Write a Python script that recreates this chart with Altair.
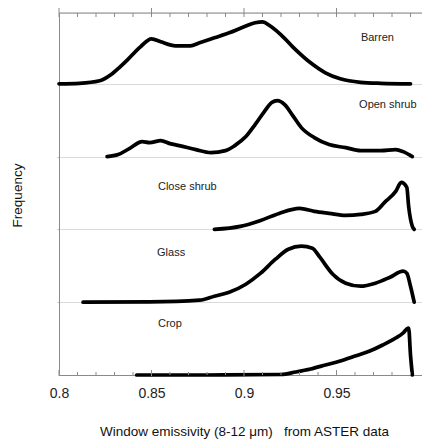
import altair as alt
import pandas as pd

# ---------------- data ----------------
classes = ["Barren", "Open shrub", "Close shrub", "Glass", "Crop"]

barren_x = [0.800, 0.811, 0.822, 0.828, 0.833, 0.837, 0.844, 0.850, 0.855, 0.863, 0.871,
            0.876, 0.884, 0.892, 0.900, 0.906, 0.910, 0.914, 0.920, 0.928, 0.936, 0.944,
            0.952, 0.963, 0.974, 0.990]
barren_f = [0, 0.5, 3, 9, 17, 24, 37, 45, 42, 38, 38,
            41, 46, 51, 57, 61, 62, 58, 49, 34, 21, 11,
            5, 1.5, 0.5, 0]

open_x = [0.826, 0.832, 0.838, 0.845, 0.849, 0.855, 0.860, 0.865, 0.874, 0.882, 0.890,
          0.895, 0.901, 0.906, 0.911, 0.915, 0.918, 0.922, 0.926, 0.931, 0.938, 0.946,
          0.955, 0.963, 0.974, 0.982, 0.986, 0.991]
open_f = [0, 2, 8, 15, 14, 16, 13, 11, 7, 4, 6,
          11, 20, 32, 45, 54, 56, 52, 42, 29, 19, 12,
          9, 6, 6, 7, 5, 0]

close_x = [0.884, 0.898, 0.909, 0.919, 0.930, 0.938, 0.946, 0.955, 0.963, 0.971, 0.976,
           0.982, 0.985, 0.988, 0.989, 0.991, 0.992]
close_f = [0, 3, 9, 16, 21, 18, 16, 14, 15, 18, 27,
           38, 47, 42, 23, 3, 0]

glass_x = [0.813, 0.849, 0.876, 0.884, 0.892, 0.901, 0.909, 0.917, 0.924, 0.931, 0.937,
           0.941, 0.948, 0.955, 0.963, 0.971, 0.979, 0.986, 0.988, 0.990, 0.992]
glass_f = [0, 0.3, 2, 6, 10, 18, 29, 43, 53, 56, 54,
           45, 28, 19, 16, 19, 25, 31, 29, 16, 0]

crop_x = [0.842, 0.880, 0.920, 0.928, 0.936, 0.944, 0.952, 0.960, 0.968, 0.975, 0.982,
          0.986, 0.988, 0.989, 0.990, 0.991]
crop_f = [0, 0, 0.5, 3, 6, 10, 14, 19, 24, 30, 37,
          42, 46, 47, 20, 0]

x_major = [0.8, 0.85, 0.9, 0.95, 1.0]
x_minor = [round(0.8 + 0.01 * i, 2) for i in range(1, 20) if i % 5 != 0]

series = {
    "Barren": (barren_x, barren_f),
    "Open shrub": (open_x, open_f),
    "Close shrub": (close_x, close_f),
    "Glass": (glass_x, glass_f),
    "Crop": (crop_x, crop_f),
}

# ---------------- layout ----------------
W, H = 370, 362
STEP = 72.8
offset = {c: (len(classes) - 1 - i) * STEP for i, c in enumerate(classes)}
label_x = {"Barren": 0.9632, "Open shrub": 0.9622, "Close shrub": 0.8535,
           "Glass": 0.853, "Crop": 0.8535}
label_dy = {"Barren": 46, "Open shrub": 52, "Close shrub": 42, "Glass": 49, "Crop": 51}

rows = []
for c in classes:
    xs, fs = series[c]
    for xv, fv in zip(xs, fs):
        rows.append({"cls": c, "x": xv, "y": offset[c] + fv})
curves = pd.DataFrame(rows)

labels = pd.DataFrame([{"cls": c, "x": label_x[c], "y": offset[c] + label_dy[c]} for c in classes])
major_df = pd.DataFrame({"x": x_major})
minor_df = pd.DataFrame({"x": x_minor})
frame_df = pd.DataFrame({"x": [x_major[0]], "x2": [x_major[-1]]})

FONT = "Liberation Sans"
GRAY = "#8a8a8a"

xscale = alt.Scale(domain=[0.8, 1.0], nice=False, zero=False)
yscale = alt.Scale(domain=[0, H], nice=False, zero=False)
baselines = [offset[c] for c in classes if offset[c] > 0]

X_AXIS = alt.Axis(orient="bottom", values=x_major, format=".2~f", tickSize=0,
                  labelFontSize=14, labelFont=FONT, labelColor="#222", labelFlush=False,
                  labelPadding=11, domainColor=GRAY, grid=False,
                  title="Window emissivity (8-12 μm)\u00a0\u00a0 from ASTER data",
                  titleFont=FONT, titleFontSize=13.5, titleFontWeight="normal",
                  titleColor="#111", titleY=56, titleBaseline="middle")
Y_AXIS = alt.Axis(values=baselines, labels=False, tickSize=2, tickColor="#bbb",
                  domainColor=GRAY, grid=True, gridColor="#b5b5b5",
                  gridDash=[1, 1], gridWidth=1,
                  title="Frequency", titleFont=FONT, titleFontSize=13.5,
                  titleFontWeight="normal", titleColor="#111",
                  titleAngle=-90, titleX=-42, titleY=182,
                  titleBaseline="middle", titleAlign="center")

def X(field="x"):
    return alt.X(f"{field}:Q", scale=xscale, axis=X_AXIS)

lines = alt.Chart(curves).mark_line(
    color="black", strokeWidth=3.7, interpolate="monotone", strokeCap="round", strokeJoin="round"
).encode(
    x=X(),
    y=alt.Y("y:Q", scale=yscale, axis=Y_AXIS),
    detail="cls:N",
)

top_line = alt.Chart(frame_df).mark_rule(color=GRAY, strokeWidth=1).encode(
    x=X(), x2="x2:Q", y=alt.value(0),
)
top_major = alt.Chart(major_df).mark_rule(color=GRAY, strokeWidth=1).encode(
    x=X(), y=alt.value(-6), y2=alt.value(4),
)
top_minor = alt.Chart(minor_df).mark_rule(color=GRAY, strokeWidth=1).encode(
    x=X(), y=alt.value(0), y2=alt.value(4),
)
bot_major = alt.Chart(major_df).mark_rule(color=GRAY, strokeWidth=1).encode(
    x=X(), y=alt.value(H - 5), y2=alt.value(H + 1),
)
bot_minor = alt.Chart(minor_df).mark_rule(color=GRAY, strokeWidth=1).encode(
    x=X(), y=alt.value(H - 3), y2=alt.value(H),
)
right_border = alt.Chart(pd.DataFrame({"x": [x_major[-1]]})).mark_rule(color="#aaa", strokeWidth=1).encode(
    x=X(), y=alt.value(0), y2=alt.value(H),
)
text = alt.Chart(labels).mark_text(
    align="left", baseline="middle", font=FONT, fontSize=11, color="#222"
).encode(
    x=X(),
    y=alt.Y("y:Q", scale=yscale, axis=Y_AXIS),
    text="cls:N",
)

chart = alt.layer(
    lines, top_line, top_major, top_minor, bot_major, bot_minor, right_border, text
).properties(
    width=W, height=H,
    autosize=alt.AutoSizeParams(type="none"),
    padding={"left": 51, "top": 5, "right": -7, "bottom": 67},
).configure_view(stroke=None).configure(background="white")

chart.save("out.html", embed_options={"renderer": "svg", "actions": False})
